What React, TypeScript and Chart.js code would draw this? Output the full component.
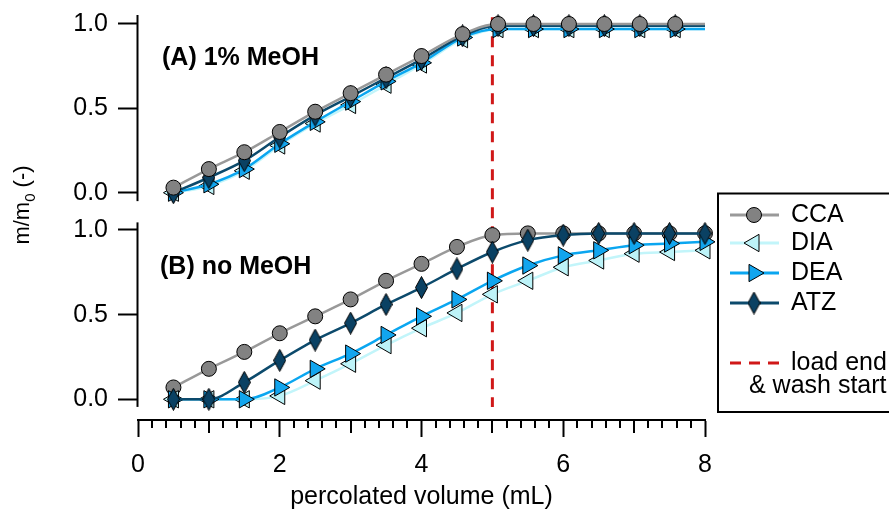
import { useEffect, useRef } from "react";
import { Chart, registerables } from "chart.js";
import { drawPoint } from "chart.js/helpers";

Chart.register(...registerables);

// Percolated volume of each collected fraction (mL)
const VOLUME_A = [0.5, 1.0, 1.5, 2.0, 2.5, 3.0, 3.5, 4.0, 4.58, 5.08, 5.58, 6.08, 6.58, 7.08, 7.58];
const VOLUME_B = [0.5, 1.0, 1.5, 2.0, 2.5, 3.0, 3.5, 4.0, 4.5, 5.0, 5.5, 6.0, 6.5, 7.0, 7.5, 8.0];

// (A) 1% MeOH — breakthrough m/m0
const CCA_A = [0.03, 0.14, 0.24, 0.36, 0.48, 0.59, 0.7, 0.81, 0.94, 1.0, 1.0, 1.0, 1.0, 1.0, 1.0];
const DIA_A = [0.0, 0.04, 0.13, 0.28, 0.41, 0.52, 0.64, 0.76, 0.91, 0.97, 0.97, 0.97, 0.97, 0.97, 0.97];
const DEA_A = [0.0, 0.05, 0.14, 0.29, 0.42, 0.54, 0.66, 0.77, 0.92, 0.97, 0.97, 0.97, 0.97, 0.97, 0.97];
const ATZ_A = [0.0, 0.09, 0.19, 0.33, 0.46, 0.57, 0.68, 0.79, 0.93, 0.99, 0.99, 0.99, 0.99, 0.99, 0.99];

// (B) no MeOH — breakthrough m/m0
const CCA_B = [0.07, 0.18, 0.28, 0.39, 0.49, 0.59, 0.7, 0.8, 0.9, 0.97, 0.98, 0.98, 0.98, 0.98, 0.98, 0.98];
const DIA_B = [0.0, 0.0, 0.0, 0.02, 0.11, 0.21, 0.32, 0.42, 0.51, 0.62, 0.7, 0.78, 0.82, 0.86, 0.87, 0.88];
const DEA_B = [0.0, 0.0, 0.0, 0.07, 0.18, 0.27, 0.38, 0.49, 0.59, 0.7, 0.79, 0.85, 0.88, 0.91, 0.92, 0.93];
const ATZ_B = [0.0, 0.0, 0.1, 0.23, 0.35, 0.45, 0.56, 0.66, 0.77, 0.87, 0.94, 0.97, 0.98, 0.98, 0.98, 0.98];

const SERIES = ["CCA", "DIA", "DEA", "ATZ"];
const LOAD_END = 5; // mL, end of loading / start of washing
const X_MIN = 0;
const X_MAX = 8;
const X_TICKS = [0, 2, 4, 6, 8];
const X_MINOR_STEP = 0.2;
const Y_TICKS = [0, 0.5, 1.0];
const PANEL_A_LABEL = "(A) 1% MeOH";
const PANEL_B_LABEL = "(B) no MeOH";
const LOAD_LABEL_1 = "load end";
const LOAD_LABEL_2 = "& wash start";
const X_TITLE = "percolated volume (mL)";

// vertical ranges of the two stacked panels (including the spacing between them)
const YA_RANGE = [-0.1085, 1.0533];
const YB_RANGE = [-0.1223, 1.1122];
const YA_SPINE = [-0.05, 1.0533];
const YB_SPINE = [-0.045, 1.045];

const FONT = '"Liberation Sans", Arial, Helvetica, sans-serif';
const FONT_SIZE = 25;
const TITLE_SIZE = 22;
const RED = "#d01818";

type Style = { line: string; fill: string; shape: any; radius: number; rotation: number };

function makeDiamond(): HTMLCanvasElement {
  const c = document.createElement("canvas");
  c.width = 13;
  c.height = 23;
  const g = c.getContext("2d")!;
  g.beginPath();
  g.moveTo(6.5, 0.5);
  g.lineTo(12.5, 11.5);
  g.lineTo(6.5, 22.5);
  g.lineTo(0.5, 11.5);
  g.closePath();
  g.fillStyle = "#0a4163";
  g.fill();
  g.lineWidth = 1;
  g.strokeStyle = "#000";
  g.stroke();
  return c;
}

export default function App() {
  const ref = useRef<HTMLCanvasElement | null>(null);

  useEffect(() => {
    const canvas = ref.current;
    if (!canvas) return;

    const styles: Record<string, Style> = {
      CCA: { line: "#999999", fill: "#828282", shape: "circle", radius: 7.5, rotation: 0 },
      DIA: { line: "#c2f5fa", fill: "#bdf3f8", shape: "triangle", radius: 10, rotation: -90 },
      DEA: { line: "#0aa6f0", fill: "#12a5ee", shape: "triangle", radius: 10, rotation: 90 },
      ATZ: { line: "#0c4a6c", fill: "#0a4163", shape: makeDiamond(), radius: 11, rotation: 0 },
    };

    const build = (name: string, xs: number[], ys: number[], axis: string, order: number) => {
      const st = styles[name];
      const n = xs.length;
      const pts = xs.map((x, i) => ({ x, y: ys[i] }));
      // fitted curve continues flat to the end of the axis
      if (xs[n - 1] < X_MAX) pts.push({ x: X_MAX, y: ys[n - 1] });
      return {
        label: name,
        data: pts,
        yAxisID: axis,
        order,
        clip: false as any,
        borderColor: st.line,
        borderWidth: 2.5,
        cubicInterpolationMode: "monotone" as const,
        pointStyle: st.shape,
        pointRotation: st.rotation,
        pointRadius: (c: any) => (c.dataIndex < n ? st.radius : 0),
        pointHoverRadius: (c: any) => (c.dataIndex < n ? st.radius : 0),
        pointBackgroundColor: st.fill,
        pointBorderColor: "#000",
        pointBorderWidth: 1,
      };
    };

    const datasets = [
      build("CCA", VOLUME_A, CCA_A, "yA", 0),
      build("ATZ", VOLUME_A, ATZ_A, "yA", 1),
      build("DEA", VOLUME_A, DEA_A, "yA", 2),
      build("DIA", VOLUME_A, DIA_A, "yA", 3),
      build("ATZ", VOLUME_B, ATZ_B, "yB", 4),
      build("DEA", VOLUME_B, DEA_B, "yB", 5),
      build("DIA", VOLUME_B, DIA_B, "yB", 6),
      build("CCA", VOLUME_B, CCA_B, "yB", 7),
    ];

    const decor = {
      id: "decor",
      beforeDatasetsDraw(chart: any) {
        const { ctx, scales } = chart;
        const x = scales.x.getPixelForValue(LOAD_END);
        ctx.save();
        ctx.strokeStyle = RED;
        ctx.lineWidth = 3;
        ctx.setLineDash([11, 8]);
        ctx.beginPath();
        ctx.moveTo(x, scales.yA.getPixelForValue(1.04));
        ctx.lineTo(x, scales.yB.getPixelForValue(-0.045));
        ctx.stroke();
        ctx.restore();
      },
      afterDraw(chart: any) {
        const { ctx, scales, chartArea } = chart;
        const xs = scales.x;
        ctx.save();
        ctx.strokeStyle = "#000";
        ctx.lineWidth = 2;
        // y spines of both panels
        const left = chartArea.left - 0.5;
        [
          [scales.yA, YA_SPINE],
          [scales.yB, YB_SPINE],
        ].forEach(([s, r]: any) => {
          ctx.beginPath();
          ctx.moveTo(left, s.getPixelForValue(r[1]));
          ctx.lineTo(left, s.getPixelForValue(r[0]));
          ctx.stroke();
        });
        // minor ticks on the volume axis
        const count = Math.round((X_MAX - X_MIN) / X_MINOR_STEP);
        for (let i = 0; i <= count; i++) {
          const v = X_MIN + i * X_MINOR_STEP;
          if (X_TICKS.some((t) => Math.abs(t - v) < 1e-6)) continue;
          const isInt = Math.abs(v - Math.round(v)) < 1e-6;
          const len = isInt ? 13 : 8;
          const px = Math.round(xs.getPixelForValue(v));
          ctx.beginPath();
          ctx.moveTo(px, xs.top);
          ctx.lineTo(px, xs.top + len);
          ctx.stroke();
        }

        // panel labels
        ctx.fillStyle = "#000";
        ctx.textBaseline = "middle";
        ctx.textAlign = "left";
        ctx.font = `bold ${FONT_SIZE}px ${FONT}`;
        ctx.fillText(PANEL_A_LABEL, 162, scales.yA.getPixelForValue(0.8));
        ctx.fillText(PANEL_B_LABEL, 160, scales.yB.getPixelForValue(0.78));

        // y title with subscript
        ctx.save();
        ctx.translate(21, 205);
        ctx.rotate(-Math.PI / 2);
        const big = `${TITLE_SIZE}px ${FONT}`;
        const small = `${Math.round(TITLE_SIZE * 0.66)}px ${FONT}`;
        ctx.font = big;
        const w1 = ctx.measureText("m/m").width;
        const w3 = ctx.measureText(" (-)").width;
        ctx.font = small;
        const w2 = ctx.measureText("0").width;
        let cx = -(w1 + w2 + w3) / 2;
        ctx.textBaseline = "alphabetic";
        ctx.font = big;
        ctx.fillText("m/m", cx, 8);
        cx += w1;
        ctx.font = small;
        ctx.fillText("0", cx, 14);
        cx += w2;
        ctx.font = big;
        ctx.fillText(" (-)", cx, 8);
        ctx.restore();

        // legend box
        ctx.lineWidth = 2;
        ctx.strokeStyle = "#000";
        ctx.strokeRect(718, 193.5, 200, 218.5);
        const rows = [215, 243, 273, 303];
        SERIES.forEach((name, i) => {
          const st = styles[name];
          const y = rows[i];
          ctx.beginPath();
          ctx.lineWidth = 3;
          ctx.strokeStyle = st.line;
          ctx.moveTo(730, y);
          ctx.lineTo(779, y);
          ctx.stroke();
          ctx.fillStyle = st.fill;
          ctx.strokeStyle = "#000";
          ctx.lineWidth = 1;
          drawPoint(ctx, { pointStyle: st.shape, rotation: st.rotation, radius: st.radius, borderWidth: 1 } as any, 754, y);
          ctx.fillStyle = "#000";
          ctx.font = `${FONT_SIZE}px ${FONT}`;
          ctx.textBaseline = "middle";
          ctx.fillText(name, 791, y);
        });
        ctx.beginPath();
        ctx.strokeStyle = RED;
        ctx.lineWidth = 3;
        ctx.setLineDash([11, 8]);
        ctx.moveTo(730, 363);
        ctx.lineTo(779, 363);
        ctx.stroke();
        ctx.setLineDash([]);
        ctx.fillStyle = "#000";
        ctx.fillText(LOAD_LABEL_1, 791, 363);
        ctx.fillText(LOAD_LABEL_2, 749, 386);
        ctx.restore();
      },
    };

    const yScale = (range: number[], weight: number, stackWeight: number) => ({
      type: "linear" as const,
      position: "left" as const,
      stack: "panels",
      stackWeight,
      weight,
      bounds: "data" as const,
      min: range[0],
      max: range[1],
      afterFit: (s: any) => {
        s.width = 138;
        s.paddingTop = 0;
        s.paddingBottom = 0;
      },
      afterBuildTicks: (s: any) => {
        s.ticks = Y_TICKS.map((value) => ({ value }));
      },
      ticks: {
        color: "#000",
        padding: 10,
        font: { size: FONT_SIZE, family: FONT },
        callback: (v: any) => Number(v).toFixed(1),
      },
      grid: { drawOnChartArea: false, drawTicks: true, tickLength: 20, tickWidth: 2, tickColor: "#000" },
      border: { display: false },
    });

    const chart = new Chart(canvas, {
      type: "line",
      data: { datasets: datasets as any },
      options: {
        animation: false,
        responsive: false,
        events: [],
        layout: { padding: { top: 15, right: 184, left: 0, bottom: 0 } },
        plugins: { legend: { display: false }, tooltip: { enabled: false } },
        scales: {
          x: {
            type: "linear",
            position: "bottom",
            min: X_MIN,
            max: X_MAX,
            afterFit: (s: any) => {
              s.height = 91;
              s.paddingLeft = 0;
              s.paddingRight = 0;
            },
            afterBuildTicks: (s: any) => {
              s.ticks = X_TICKS.map((value) => ({ value }));
            },
            ticks: {
              color: "#000",
              padding: 13,
              maxRotation: 0,
              autoSkip: false,
              font: { size: FONT_SIZE, family: FONT },
              callback: (v: any) => String(v),
            },
            grid: { drawOnChartArea: false, drawTicks: true, tickLength: 17, tickWidth: 2, tickColor: "#000" },
            border: { display: true, color: "#000", width: 2 },
            title: {
              display: true,
              text: X_TITLE,
              color: "#000",
              font: { size: FONT_SIZE, family: FONT },
              padding: { top: 0, bottom: -1 },
            },
          },
          yA: yScale(YA_RANGE, 1, 196),
          yB: yScale(YB_RANGE, 0, 209),
        } as any,
      },
      plugins: [decor],
    });

    return () => chart.destroy();
  }, []);

  return (
    <div style={{ position: "fixed", left: 0, top: 0, width: 889, height: 511, background: "#fff" }}>
      <canvas ref={ref} width={889} height={511} style={{ display: "block" }} />
    </div>
  );
}
